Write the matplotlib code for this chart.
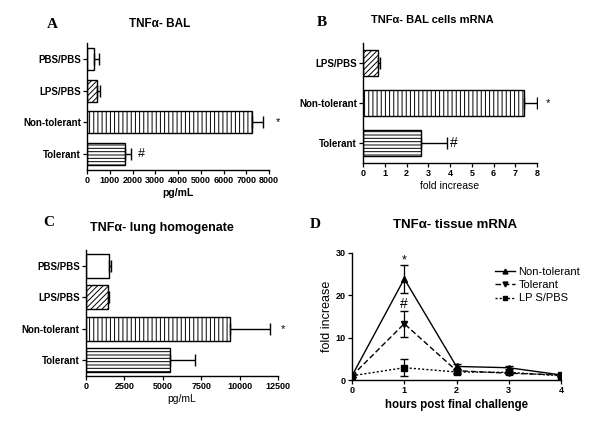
import numpy as np
import matplotlib
matplotlib.use("Agg")
import matplotlib.pyplot as plt
from matplotlib.lines import Line2D

plt.rcParams["font.family"] = ["Liberation Sans", "DejaVu Sans"]
plt.rcParams["hatch.linewidth"] = 0.7

# --- data ---
cats_4 = ["PBS/PBS", "LPS/PBS", "Non-tolerant", "Tolerant"]
cats_3 = ["LPS/PBS", "Non-tolerant", "Tolerant"]

bal_vals = [300, 450, 7250, 1650]
bal_err = [230, 120, 480, 300]

mrna_vals = [0.7, 7.4, 2.65]
mrna_err = [0.07, 0.6, 1.2]

lung_vals = [1500, 1400, 9400, 5500]
lung_err = [100, 120, 2600, 1600]

hours = [0, 1, 2, 3, 4]
nontol = [1.0, 23.9, 3.2, 2.9, 1.2]
nontol_err = [0.3, 3.3, 0.6, 0.4, 0.3]
tol = [1.0, 13.3, 2.2, 1.6, 1.2]
tol_err = [0.3, 3.1, 0.5, 0.3, 0.3]
lps = [1.0, 2.9, 1.9, 1.8, 1.0]
lps_err = [0.3, 2.0, 0.4, 0.3, 0.3]

hatch_for = {"PBS/PBS": "", "LPS/PBS": "//////", "Non-tolerant": "||||", "Tolerant": "-----"}

fig = plt.figure(figsize=(6, 4.26), dpi=100, facecolor="white")


def px(x0, y0, x1, y1):
    # pixel box -> figure fraction
    return [x0 / 600, 1 - y1 / 426, (x1 - x0) / 600, (y1 - y0) / 426]


def style_axes(ax, ysize=6.5):
    for s in ("top", "right"):
        ax.spines[s].set_visible(False)
    for s in ("left", "bottom"):
        ax.spines[s].set_linewidth(1.0)
    ax.tick_params(direction="out", length=3, width=0.9, labelsize=6.5, pad=1.5)
    ax.tick_params(axis="y", labelsize=ysize)
    for lab in ax.get_xticklabels() + ax.get_yticklabels():
        lab.set_fontweight("bold")


def hbars(ax, cats, vals, errs, height):
    y = np.arange(len(cats))[::-1]
    for yi, c, v, e in zip(y, cats, vals, errs):
        ax.barh(yi, v, height=height, color="white", edgecolor="black",
                linewidth=1.0, hatch=hatch_for[c])
        ax.errorbar(v, yi, xerr=[[0], [e]], fmt="none", ecolor="black",
                    elinewidth=1.0, capsize=4, capthick=1.0)
    ax.set_yticks(y)
    ax.set_yticklabels(cats)
    ax.set_ylim(-0.5, len(cats) - 0.5)
    return y


def panel_text(x, y, s, **kw):
    fig.text(x / 600, 1 - y / 426, s, ha="center", va="center", **kw)


# --- A ---
axA = fig.add_axes(px(87, 43, 269, 170))
yA = hbars(axA, cats_4, bal_vals, bal_err, 0.7)
axA.set_xlim(0, 8000)
axA.set_xticks(np.arange(0, 8001, 1000))
axA.set_xlabel("pg/mL", fontsize=7.5, fontweight="bold", labelpad=2)
style_axes(axA, 7)
axA.text(8300, yA[2], "*", fontsize=8, va="center", clip_on=False)
axA.text(2250, yA[3], "#", fontsize=9, va="center")
panel_text(52, 24, "A", family="Liberation Serif", fontsize=11, fontweight="bold")
panel_text(160, 24, "TNF\u03b1- BAL", fontsize=8.5, fontweight="bold")

# --- B ---
axB = fig.add_axes(px(363, 43, 537, 163))
yB = hbars(axB, cats_3, mrna_vals, mrna_err, 0.65)
axB.set_xlim(0, 8)
axB.set_xticks(range(0, 9))
axB.set_xlabel("fold increase", fontsize=7.5, labelpad=2)
style_axes(axB, 7)
axB.text(8.4, yB[1], "*", fontsize=8, va="center", clip_on=False)
axB.text(4.0, yB[2], "#", fontsize=10, va="center")
panel_text(322, 22, "B", family="Liberation Serif", fontsize=11, fontweight="bold")
panel_text(432, 20, "TNF\u03b1- BAL cells mRNA", fontsize=8, fontweight="bold")

# --- C ---
axC = fig.add_axes(px(86, 250, 278, 376))
yC = hbars(axC, cats_4, lung_vals, lung_err, 0.75)
axC.set_xlim(0, 12500)
axC.set_xticks(np.arange(0, 12501, 2500))
axC.set_xlabel("pg/mL", fontsize=7.5, labelpad=2)
style_axes(axC, 7)
axC.text(12700, yC[2], "*", fontsize=8, va="center", clip_on=False)
panel_text(49, 222, "C", family="Liberation Serif", fontsize=11, fontweight="bold")
panel_text(162, 228, "TNF\u03b1- lung homogenate", fontsize=9, fontweight="bold")

# --- D ---
axD = fig.add_axes(px(352, 253, 561, 380))
kw = dict(color="black", linewidth=1.0, markersize=4.5, capsize=3, elinewidth=0.9)
axD.errorbar(hours, nontol, yerr=nontol_err, linestyle="-", marker="^",
             label="Non-tolerant", **kw)
axD.errorbar(hours, tol, yerr=tol_err, linestyle=(0, (4, 2)), marker="v",
             label="Tolerant", **kw)
axD.errorbar(hours, lps, yerr=lps_err, linestyle=(0, (1.5, 1.5)), marker="s",
             label="LP S/PBS", **kw)
axD.set_xlim(0, 4)
axD.set_ylim(0, 30)
axD.set_xticks(hours)
axD.set_yticks([0, 10, 20, 30])
axD.set_xlabel("hours post final challenge", fontsize=8.3, fontweight="bold", labelpad=3)
axD.set_ylabel("fold increase", fontsize=9, labelpad=2)
style_axes(axD)
for sp in axD.spines.values():
    sp.set_clip_on(False)
axD.text(1, 28.2, "*", fontsize=9, ha="center", va="center")
axD.text(1, 18.0, "#", fontsize=10, ha="center", va="center")
handles = [
    Line2D([], [], color="black", linestyle="-", marker="^", markersize=3.5, linewidth=1.0),
    Line2D([], [], color="black", linestyle=(0, (4, 2)), marker="v", markersize=3.5, linewidth=1.0),
    Line2D([], [], color="black", linestyle=(0, (1.5, 1.5)), marker="s", markersize=3.5, linewidth=1.0),
]
axD.legend(handles, ["Non-tolerant", "Tolerant", "LP S/PBS"], loc="upper right",
           bbox_to_anchor=(1.14, 0.97), frameon=False, fontsize=8,
           handlelength=1.8, handletextpad=0.3, labelspacing=0.3)
panel_text(315, 225, "D", family="Liberation Serif", fontsize=11, fontweight="bold")
panel_text(455, 225, "TNF\u03b1- tissue mRNA", fontsize=9.5, fontweight="bold")

fig.savefig("out.png", dpi=100, facecolor="white")
